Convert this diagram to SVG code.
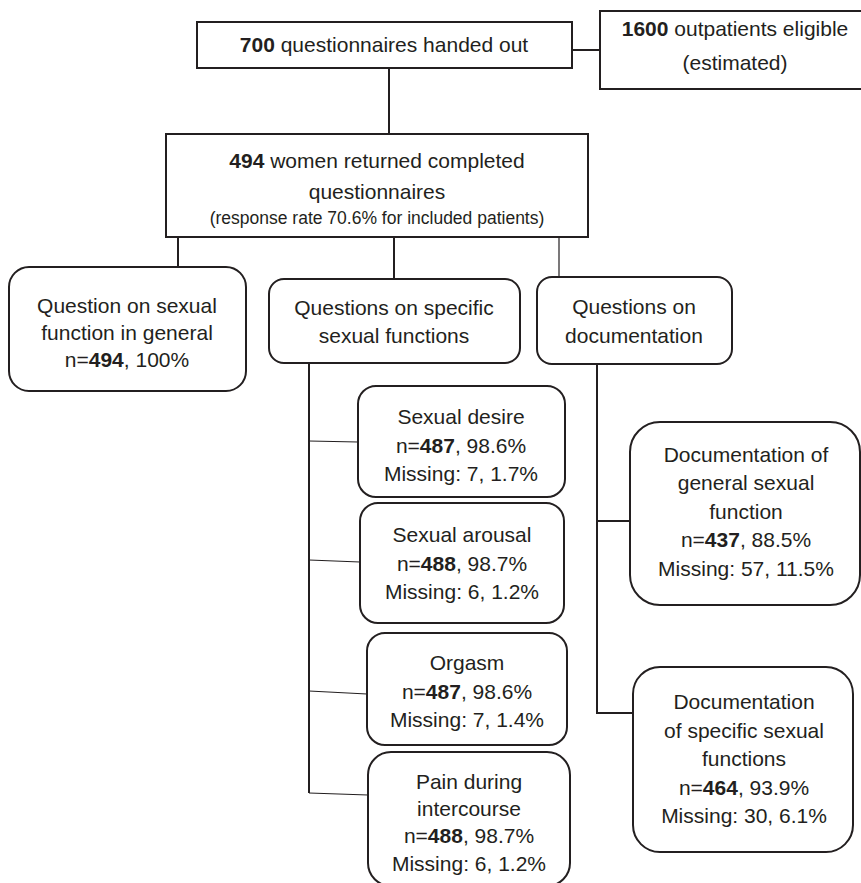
<svg xmlns="http://www.w3.org/2000/svg" width="861" height="883" viewBox="0 0 861 883">
<style>
  .box { fill: #ffffff; stroke: #231f20; stroke-width: 2; }
  .t { font-family: "Liberation Sans", Arial, sans-serif; font-size: 21px; fill: #231f20; text-anchor: middle; }
  .s { font-size: 17.5px; }
  .b { font-weight: bold; }
  .ln { fill: none; stroke: #231f20; stroke-width: 2; }
  .thin { fill: none; stroke: #231f20; stroke-width: 1.2; }
</style>
<rect width="861" height="883" fill="#ffffff"/>
<g id="connectors">
  <line class="ln" x1="572" y1="50" x2="600" y2="50"/>
  <line class="ln" x1="389" y1="68" x2="389" y2="134"/>
  <line class="ln" x1="178" y1="237" x2="178" y2="267"/>
  <line class="ln" x1="394" y1="237" x2="394" y2="279"/>
  <line class="thin" x1="559" y1="237" x2="559" y2="277"/>
  <path class="ln" d="M309,362 V793"/>
  <path class="thin" d="M309,793 L368,795"/>
  <path class="thin" d="M309,441 L358,442"/>
  <path class="thin" d="M309,560 L360,562"/>
  <path class="thin" d="M309,691 L367,694"/>
  <path class="ln" d="M597,364 V713 H633"/>
  <line class="ln" x1="597" y1="521" x2="630" y2="521"/>
</g>
<g id="n-handed-out">
  <rect class="box" x="197" y="22" width="375" height="46"/>
  <text class="t" x="384" y="52"><tspan class="b">700</tspan> questionnaires handed out</text>
</g>
<g id="n-eligible">
  <rect class="box" x="600" y="11" width="280" height="78"/>
  <text class="t" x="735" y="36"><tspan class="b">1600</tspan> outpatients eligible</text>
  <text class="t" x="735" y="70">(estimated)</text>
</g>
<g id="n-returned">
  <rect class="box" x="166" y="134" width="422" height="103"/>
  <text class="t" x="377" y="168"><tspan class="b">494</tspan> women returned completed</text>
  <text class="t" x="377" y="199">questionnaires</text>
  <text class="t s" x="377" y="224">(response rate 70.6% for included patients)</text>
</g>
<g id="n-general">
  <rect class="box" x="9" y="267" width="237" height="124" rx="20"/>
  <text class="t" x="127" y="313">Question on sexual</text>
  <text class="t" x="127" y="340">function in general</text>
  <text class="t" x="127" y="367">n=<tspan class="b">494</tspan>, 100%</text>
</g>
<g id="n-specific">
  <rect class="box" x="269" y="279" width="251" height="84" rx="15"/>
  <text class="t" x="394" y="315">Questions on specific</text>
  <text class="t" x="394" y="343">sexual functions</text>
</g>
<g id="n-documentation">
  <rect class="box" x="537" y="277" width="195" height="87" rx="15"/>
  <text class="t" x="634" y="314">Questions on</text>
  <text class="t" x="634" y="343">documentation</text>
</g>
<g id="n-desire">
  <rect class="box" x="358" y="386" width="207" height="111" rx="18"/>
  <text class="t" x="461" y="424">Sexual desire</text>
  <text class="t" x="461" y="453">n=<tspan class="b">487</tspan>, 98.6%</text>
  <text class="t" x="461" y="481">Missing: 7, 1.7%</text>
</g>
<g id="n-arousal">
  <rect class="box" x="360" y="503" width="204" height="120" rx="18"/>
  <text class="t" x="462" y="542">Sexual arousal</text>
  <text class="t" x="462" y="571">n=<tspan class="b">488</tspan>, 98.7%</text>
  <text class="t" x="462" y="599">Missing: 6, 1.2%</text>
</g>
<g id="n-orgasm">
  <rect class="box" x="367" y="633" width="200" height="112" rx="18"/>
  <text class="t" x="467" y="670">Orgasm</text>
  <text class="t" x="467" y="699">n=<tspan class="b">487</tspan>, 98.6%</text>
  <text class="t" x="467" y="727">Missing: 7, 1.4%</text>
</g>
<g id="n-pain">
  <rect class="box" x="368" y="752" width="202" height="134" rx="23"/>
  <text class="t" x="469" y="789">Pain during</text>
  <text class="t" x="469" y="816">intercourse</text>
  <text class="t" x="469" y="843">n=<tspan class="b">488</tspan>, 98.7%</text>
  <text class="t" x="469" y="871">Missing: 6, 1.2%</text>
</g>
<g id="n-doc-general">
  <rect class="box" x="630" y="422" width="230" height="183" rx="30"/>
  <text class="t" x="746" y="462">Documentation of</text>
  <text class="t" x="746" y="490">general sexual</text>
  <text class="t" x="746" y="519">function</text>
  <text class="t" x="746" y="547">n=<tspan class="b">437</tspan>, 88.5%</text>
  <text class="t" x="746" y="576">Missing: 57, 11.5%</text>
</g>
<g id="n-doc-specific">
  <rect class="box" x="633" y="667" width="220" height="185" rx="27"/>
  <text class="t" x="744" y="709">Documentation</text>
  <text class="t" x="744" y="738">of specific sexual</text>
  <text class="t" x="744" y="766">functions</text>
  <text class="t" x="744" y="795">n=<tspan class="b">464</tspan>, 93.9%</text>
  <text class="t" x="744" y="823">Missing: 30, 6.1%</text>
</g>
</svg>
